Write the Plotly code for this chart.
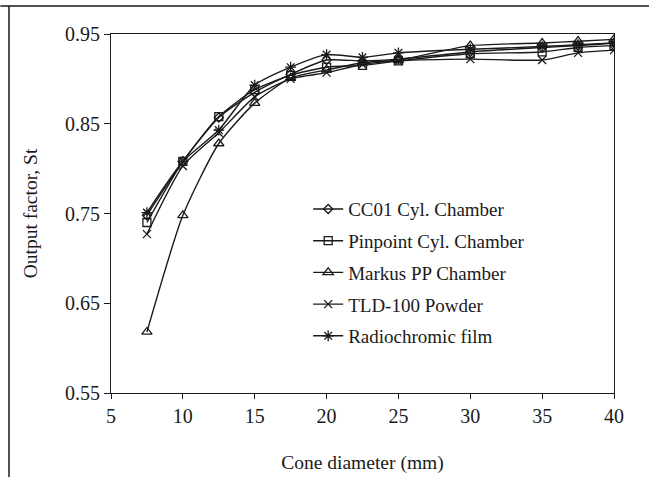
import plotly.graph_objects as go

cone_diameter = [7.5, 10, 12.5, 15, 17.5, 20, 22.5, 25, 30, 35, 37.5, 40]
cc01 = [0.748, 0.808, 0.857, 0.885, 0.905, 0.921, 0.920, 0.922, 0.930, 0.935, 0.937, 0.940]
pinpoint = [0.740, 0.808, 0.858, 0.888, 0.904, 0.913, 0.915, 0.920, 0.928, 0.930, 0.935, 0.937]
markus = [0.618, 0.748, 0.828, 0.873, 0.901, 0.910, 0.918, 0.921, 0.937, 0.940, 0.942, 0.944]
tld = [0.727, 0.803, 0.840, 0.880, 0.900, 0.907, 0.916, 0.920, 0.922, 0.921, 0.929, 0.932]
film = [0.751, 0.808, 0.843, 0.893, 0.913, 0.927, 0.924, 0.929, 0.933, 0.936, 0.938, 0.940]

names = ["CC01 Cyl. Chamber", "Pinpoint Cyl. Chamber", "Markus PP Chamber",
         "TLD-100 Powder", "Radiochromic film"]
series = [cc01, pinpoint, markus, tld, film]
symbols = ["diamond-open", "square-open", "triangle-up-open", "x-thin-open", "asterisk-open"]
sizes = [7, 8, 9, 8, 9]

x_ticks = [5, 10, 15, 20, 25, 30, 35, 40]
y_ticks = [0.55, 0.65, 0.75, 0.85, 0.95]

fig = go.Figure()
for i, (n, s, sym, sz) in enumerate(zip(names, series, symbols, sizes)):
    fig.add_trace(go.Scatter(
        x=cone_diameter, y=s, name=n, mode="lines+markers",
        line=dict(color="#1a1a1a", width=1.4, shape="spline", smoothing=0.6),
        marker=dict(symbol=sym, size=sz, color="#1a1a1a",
                    line=dict(color="#1a1a1a", width=1.3)),
        legendgroup=f"g{i}",
    ))

ff = "Liberation Serif"
fig.update_layout(
    width=649, height=477,
    margin=dict(l=111, r=35, t=34, b=84),
    paper_bgcolor="white", plot_bgcolor="white",
    font=dict(family=ff, color="#1a1a1a", size=19),
    showlegend=True,
    legend=dict(x=0.392, y=0.565, xanchor="left", yanchor="top",
                bgcolor="rgba(0,0,0,0)", font=dict(family=ff, size=19),
                tracegroupgap=4, itemwidth=30),
    xaxis=dict(range=[5, 40], tickvals=x_ticks, ticks="outside", ticklen=5,
               tickcolor="#1a1a1a", showline=True, linecolor="#1a1a1a", linewidth=1.2,
               mirror=True, showgrid=False, zeroline=False, automargin=False,
               title=dict(text="Cone diameter (mm)", font=dict(family=ff, size=19.5), standoff=29),
               tickfont=dict(family=ff, size=20)),
    yaxis=dict(range=[0.55, 0.95], tickvals=y_ticks, tickformat=".2f", ticks="outside",
               ticklen=6, tickcolor="#1a1a1a", showline=True, linecolor="#1a1a1a",
               linewidth=1.2, mirror=True, showgrid=False, zeroline=False, automargin=False,
               title=dict(text="Output factor, St", font=dict(family=ff, size=19.5), standoff=22),
               tickfont=dict(family=ff, size=20)),
)

# outer frame lines (top and left)
fig.add_shape(type="line", xref="paper", yref="paper", x0=-0.22, x1=1.1,
              y0=(393 - 6) / 359, y1=(393 - 6) / 359, line=dict(color="#1a1a1a", width=1.5))
fig.add_shape(type="line", xref="paper", yref="paper", x0=(9 - 111) / 503, x1=(9 - 111) / 503,
              y0=(393 - 6) / 359, y1=-0.3, line=dict(color="#1a1a1a", width=1.5))

fig.write_html("out.html")
